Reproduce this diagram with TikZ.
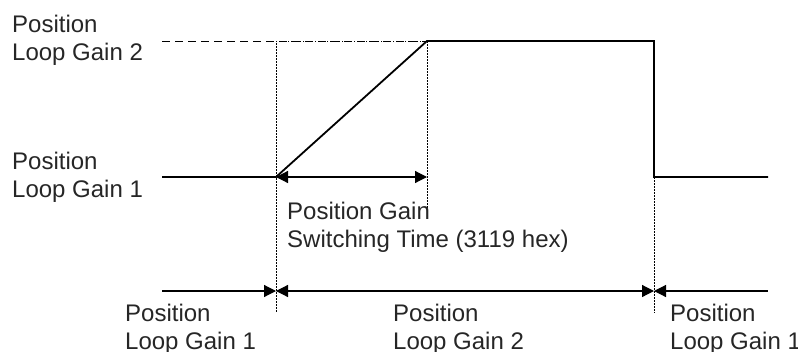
\documentclass[tikz,border=0pt]{standalone}
\usepackage{fontspec}
\setmainfont{Liberation Sans}
\usetikzlibrary{arrows.meta, positioning}
\tikzset{
  signal/.style={line width=1.8pt, line join=miter},
  guide/.style={line width=0.8pt, dash pattern=on 1.5pt off 1.5pt},
  levelguide/.style={line width=0.9pt, dash pattern=on 8pt off 5pt},
  span/.style={line width=1.2pt},
  label/.style={anchor=base west, inner sep=0pt, align=left,
    font=\fontsize{24}{28}\selectfont, text=black!85}
}
\begin{document}
\begin{tikzpicture}[x=1pt, y=-1pt, >={Triangle[length=12pt, width=12pt]}]
  \useasboundingbox (0,0) rectangle (798,351);
  % signal corners
  \coordinate (s0) at (162,177);
  \coordinate (t1) at (276,177);
  \coordinate (t2) at (427,41);
  \coordinate (t3) at (654,41);
  \coordinate (t4) at (654,177);
  \coordinate (s1) at (768,177);
  \coordinate (g2) at (162,41);
  % guides
  \draw[levelguide] (g2) -- (t2);
  \draw[guide] (t2) -- (276,41) coordinate (d1) -- (276,313) coordinate (d1b);
  \draw[guide] (t2) -- (427,212) coordinate (d2b);
  \draw[guide] (t4) -- (654,313) coordinate (d3b);
  % signal
  \draw[signal] (s0) -- (t1) -- (t2) -- (t3) -- (t4) -- (s1);
  % switching time
  \coordinate (a1) at (427,177);
  \draw[span, <->] (t1) -- (a1);
  % bottom spans
  \coordinate (b0) at (162,291);
  \coordinate (b1) at (276,291);
  \coordinate (b2) at (654,291);
  \coordinate (b3) at (768,291);
  \draw[span, ->] (b0) -- (b1);
  \draw[span, <->] (b1) -- (b2);
  \draw[span, <-] (b2) -- (b3);
  % labels (anchored at the last line)
  \node[label] (lg2) at (12,60.5) {Position\\Loop Gain 2};
  \node[label] (lg1) at (12,197) {Position\\Loop Gain 1};
  \node[label] (sw) at (287,247) {Position Gain\\Switching Time (3119 hex)};
  \node[label] (p1) at (125,349) {Position\\Loop Gain 1};
  \node[label] (p2) at (393,349) {Position\\Loop Gain 2};
  \node[label] (p3) at (670,349) {Position\\Loop Gain 1};
\end{tikzpicture}
\end{document}
